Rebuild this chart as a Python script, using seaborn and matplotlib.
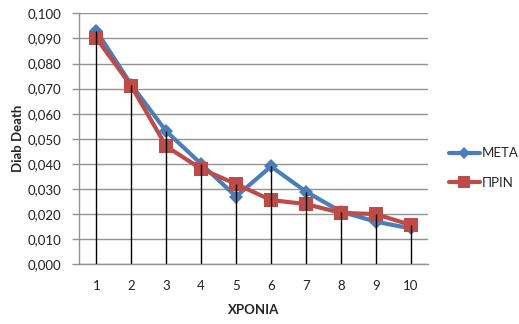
import matplotlib
matplotlib.use("Agg")
import matplotlib.pyplot as plt
from matplotlib.ticker import FuncFormatter, MultipleLocator
from matplotlib.lines import Line2D
import seaborn as sns
import pandas as pd

# Yearly values for the two series
years = [1, 2, 3, 4, 5, 6, 7, 8, 9, 10]
meta = [0.093, 0.0715, 0.053, 0.040, 0.027, 0.039, 0.029, 0.021, 0.017, 0.0143]
prin = [0.090, 0.071, 0.047, 0.038, 0.032, 0.0256, 0.024, 0.0205, 0.020, 0.0157]
series_names = ["ΜΕΤΑ", "ΠΡΙΝ"]

sns.set_theme(style="white")
plt.rcParams["font.family"] = ["Lato", "DejaVu Sans"]

df = pd.DataFrame({
    "year": years * 2,
    "value": meta + prin,
    "series": [series_names[0]] * len(years) + [series_names[1]] * len(years),
})

fig = plt.figure(figsize=(5.19, 3.24), dpi=100)
ax = fig.add_axes([79 / 519, 59.7 / 324, 349 / 519, 251 / 324])

grid_col = "#939393"
ax.set_xlim(0.5, 10.5)
ax.set_ylim(0, 0.1)
ax.yaxis.set_major_locator(MultipleLocator(0.01))
ax.yaxis.set_major_formatter(FuncFormatter(lambda v, p: f"{v:.3f}".replace(".", ",")))
ax.set_xticks(years)
ax.grid(axis="y", color=grid_col, linewidth=1.0)
ax.set_axisbelow(True)

# Drop lines from the axis up to the higher of the two series
tops = [max(a, b) for a, b in zip(meta, prin)]
ax.vlines(years, 0, tops, color="black", linewidth=1.0, zorder=4)

palette = {series_names[0]: "#4a7ebb", series_names[1]: "#be4b48"}
markers = {series_names[0]: "D", series_names[1]: "s"}
sns.lineplot(data=df, x="year", y="value", hue="series", style="series",
             palette=palette, markers=markers, dashes=False, linewidth=3,
             markersize=9.5, markeredgewidth=0, ax=ax, legend=False, zorder=3)
# diamonds a bit smaller than squares
for line in ax.lines:
    if line.get_marker() == "D":
        line.set_markersize(7.5)

for s in ["top", "right"]:
    ax.spines[s].set_visible(False)
for s in ["left", "bottom"]:
    ax.spines[s].set_color(grid_col)
    ax.spines[s].set_linewidth(1.0)

ax.tick_params(axis="y", length=5, width=1, color=grid_col, pad=8, labelsize=9.5,
               labelcolor="#222222", left=True)
ax.tick_params(axis="x", length=0, pad=11, labelsize=9.5, labelcolor="#222222")

ax.set_xlabel("ΧΡΟΝΙΑ", fontsize=9.5, fontweight="bold", labelpad=9)
ax.set_ylabel("Diab Death", fontsize=9.5, fontweight="bold", labelpad=2)

# Legend on the right
handles = [
    Line2D([], [], color=palette[series_names[0]], marker="D", markersize=6, lw=3, markeredgewidth=0),
    Line2D([], [], color=palette[series_names[1]], marker="s", markersize=8, lw=3, markeredgewidth=0),
]
fig.legend(handles, series_names, loc="center left", bbox_to_anchor=(444 / 519, 1 - 168 / 324),
           frameon=False, fontsize=9.5, handlelength=2.3, handletextpad=0.15,
           labelspacing=1.3, borderaxespad=0)

fig.savefig("out.png", dpi=100)
